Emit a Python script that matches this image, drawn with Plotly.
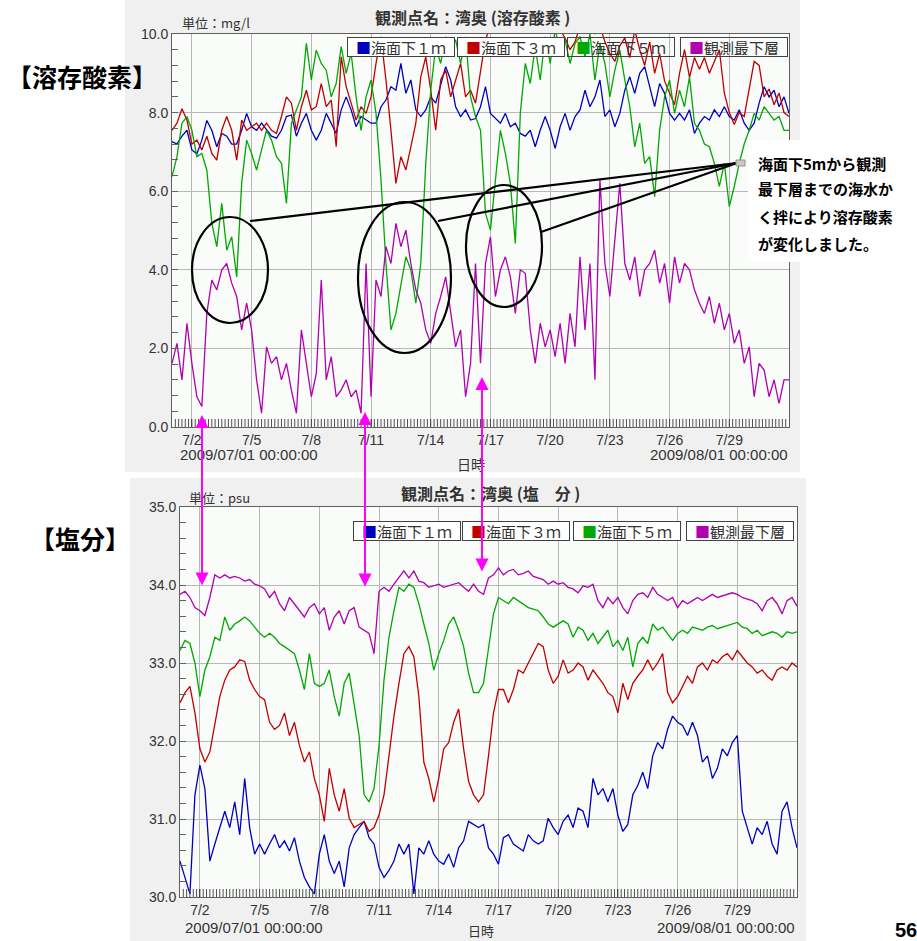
import pandas as pd
import plotly.graph_objects as go

W, H = 917, 941

# ---------------- data (6-hourly readings, 2009/07/01 00:00 .. 2009/08/01 00:00) ----------------
times = pd.date_range("2009-07-01 00:00", periods=125, freq="6h")
START = pd.Timestamp("2009-07-01 00:00")
days = ((times - START) / pd.Timedelta(days=1)).tolist()   # time as days since 7/1 00:00

series_names = ["海面下１ｍ", "海面下３ｍ", "海面下５ｍ", "観測最下層"]
series_colors = ["#0000c0", "#c00000", "#00a800", "#b000b0"]

do_1m = [7.26, 7.2, 7.4, 7.55, 7.05, 6.95, 7.3, 7.8, 7.55, 7.13, 7.47, 7.4,
         7.2, 7.2, 7.55, 7.98, 7.64, 7.55, 7.73, 7.55, 7.4, 7.35, 7.55, 7.9,
         7.94, 7.4, 7.73, 7.98, 7.55, 7.3, 7.55, 7.98, 7.73, 7.47, 8.07, 8.4,
         8.07, 7.64, 7.9, 7.81, 7.73, 7.73, 8.15, 8.32, 8.66, 8.57, 9.25, 8.49,
         8.83, 8.07, 7.9, 8.07, 8.4, 8.24, 8.74, 9.17, 8.83, 8.15, 7.9, 8.07,
         7.81, 7.85, 8.15, 8.66, 7.98, 7.85, 7.73, 7.98, 7.64, 7.73, 7.47, 7.4,
         7.55, 7.13, 7.55, 7.9, 7.55, 7.09, 7.64, 7.98, 7.55, 7.9, 8.07, 8.57,
         8.15, 8.4, 8.83, 7.9, 8.07, 7.64, 7.98, 8.57, 8.91, 8.49, 9.0, 9.17,
         8.66, 8.15, 8.74, 8.49, 7.98, 7.81, 7.98, 7.81, 8.07, 7.47, 7.73, 7.9,
         7.81, 8.07, 7.9, 8.15, 7.9, 7.81, 8.07, 7.73, 7.55, 7.73, 8.24, 8.66,
         8.4, 8.57, 8.15, 8.4, 7.98]
do_3m = [7.55, 7.73, 8.1, 7.81, 7.2, 7.3, 7.05, 7.4, 6.96, 6.79, 7.55, 7.9,
         7.55, 6.79, 7.81, 7.55, 7.64, 7.73, 7.55, 7.73, 7.55, 7.47, 7.9, 8.4,
         8.24, 7.55, 8.15, 8.57, 8.07, 8.15, 8.74, 8.15, 8.32, 7.13, 9.42, 8.66,
         8.24, 7.81, 8.15, 7.98, 8.4, 9.25, 9.93, 8.83, 7.55, 6.2, 6.88, 6.54,
         7.13, 7.73, 8.91, 9.42, 8.57, 7.55, 8.83, 9.08, 8.4, 8.83, 9.25, 8.4,
         8.57, 8.24, 9.08, 9.85, 10.2, 10.4, 10.4, 10.6, 10.3, 10.5, 10.2, 10.6,
         10.4, 10.1, 10.5, 10.3, 10.2, 10.4, 10.1, 9.9, 9.6, 9.8, 10.2, 10.1,
         10.3, 10.0, 10.2, 9.8, 9.5, 9.3, 9.7, 9.9, 9.4, 10.1, 9.6, 9.2,
         9.8, 9.0, 9.5, 8.8, 8.5, 8.2, 9.0, 9.6, 8.9, 9.4, 9.1, 9.4,
         9.0, 9.3, 9.6, 8.5, 8.0, 7.7, 8.0, 7.9, 8.6, 9.3, 9.2, 8.4,
         8.6, 8.2, 8.5, 8.0, 7.9]
do_5m = [6.37, 6.88, 7.73, 7.9, 7.55, 6.88, 6.96, 6.54, 5.19, 4.59, 5.69, 4.5,
         4.84, 3.82, 6.2, 7.3, 6.96, 6.54, 7.05, 7.55, 7.3, 6.88, 6.71, 5.69,
         7.73, 8.07, 8.4, 9.76, 8.83, 9.59, 9.25, 9.08, 8.4, 8.74, 9.68, 9.0,
         9.51, 8.4, 7.55, 8.4, 8.83, 7.98, 6.29, 4.16, 2.47, 2.89, 3.66, 4.33,
         4.0, 3.15, 4.16, 6.71, 8.57, 9.68, 9.25, 9.93, 9.59, 9.85, 9.25, 9.93,
         8.4, 7.9, 7.55, 5.44, 5.01, 6.29, 7.55, 6.96, 6.2, 4.67, 7.98, 9.25,
         8.74, 9.68, 8.83, 9.93, 9.25, 10.1, 9.59, 9.85, 9.25, 9.76, 9.93, 9.42,
         10.0, 8.83, 9.76, 9.25, 8.4, 9.08, 9.59, 8.83, 8.15, 7.13, 7.73, 6.71,
         6.88, 5.86, 7.55, 8.4, 8.83, 7.98, 8.57, 8.15, 8.91, 7.73, 7.55, 7.2,
         7.13, 6.71, 6.12, 6.71, 5.61, 6.12, 6.71, 7.2, 7.55, 7.98, 7.81, 8.15,
         7.98, 7.81, 7.9, 7.55, 7.55]
do_bottom = [1.62, 2.13, 1.2, 2.64, 1.62, 0.77, 0.52, 2.89, 3.74, 3.49, 4.0, 4.16,
             3.66, 3.32, 2.47, 3.15, 2.47, 1.2, 0.35, 2.04, 1.62, 1.79, 1.2, 1.62,
             0.94, 0.35, 2.47, 1.62, 0.77, 1.36, 3.74, 1.2, 1.79, 0.77, 0.94, 1.2,
             0.77, 0.94, 0.35, 4.16, 0.77, 3.74, 3.32, 4.59, 4.16, 5.18, 4.59, 5.01,
             4.16, 3.49, 3.15, 2.47, 2.13, 2.89, 3.32, 3.82, 2.89, 2.04, 2.47, 0.77,
             1.62, 4.16, 1.62, 4.16, 4.84, 3.32, 4.0, 4.33, 3.82, 2.89, 4.0, 3.91,
             2.47, 1.62, 2.64, 2.04, 2.47, 1.79, 2.64, 1.62, 2.89, 2.04, 4.33, 2.47,
             4.16, 1.2, 6.29, 4.16, 3.32, 4.84, 6.2, 4.16, 3.74, 4.33, 3.32, 4.0,
             4.16, 4.5, 3.66, 4.16, 3.15, 4.33, 3.66, 4.16, 4.0, 3.49, 3.15, 2.89,
             3.32, 2.64, 3.15, 2.47, 2.89, 2.13, 2.47, 1.62, 2.04, 0.77, 1.62, 1.45,
             0.77, 1.2, 0.6, 1.2, 1.2]

sal_1m = [30.46, 30.25, 30.04, 31.31, 31.69, 31.39, 30.46, 30.68, 30.89, 31.1, 30.89, 31.22,
          30.8, 31.52, 30.89, 30.55, 30.68, 30.55, 30.68, 30.8, 30.63, 30.72, 30.59, 30.76,
          30.46, 30.25, 30.13, 30.04, 30.55, 30.8, 30.46, 30.3, 30.46, 30.13, 30.63, 30.8,
          30.89, 30.97, 30.76, 30.68, 30.38, 30.25, 30.34, 30.46, 30.68, 30.55, 30.68, 30.04,
          30.63, 30.55, 30.72, 30.55, 30.46, 30.42, 30.55, 30.38, 30.63, 30.72, 30.97, 30.93,
          30.89, 30.93, 30.63, 30.55, 30.42, 30.76, 30.8, 30.68, 30.63, 30.59, 30.8, 30.72,
          30.68, 30.72, 31.01, 30.89, 30.8, 30.97, 31.05, 30.89, 31.14, 31.1, 30.89, 31.52,
          31.31, 31.39, 31.22, 31.39, 31.05, 30.84, 30.93, 31.31, 31.43, 31.6, 31.39, 31.81,
          31.98, 31.9, 32.15, 32.32, 32.24, 32.2, 32.07, 32.24, 32.07, 31.73, 31.81, 31.52,
          31.65, 31.9, 31.81, 31.98, 32.07, 31.1, 30.89, 30.68, 30.89, 30.8, 30.97, 30.68,
          30.55, 31.1, 31.22, 30.89, 30.63]
sal_3m = [32.49, 32.62, 32.7, 32.36, 31.9, 31.73, 31.86, 32.24, 32.57, 32.78, 32.91, 32.95,
          33.04, 33.02, 32.78, 32.66, 32.57, 32.53, 32.24, 32.15, 32.2, 32.36, 32.07, 32.24,
          31.94, 31.73, 31.86, 31.52, 31.31, 30.97, 31.65, 31.31, 31.1, 31.39, 31.01, 30.89,
          30.93, 30.97, 30.84, 30.89, 31.05, 31.31, 31.81, 32.32, 32.74, 33.12, 33.21, 33.08,
          32.57, 31.73, 31.52, 31.22, 31.52, 31.9, 31.98, 32.24, 32.41, 31.9, 31.48, 31.31,
          31.22, 31.31, 31.81, 32.36, 32.66, 32.66, 32.49, 32.66, 32.91, 32.87, 33.0, 33.12,
          33.25, 33.21, 32.91, 32.74, 32.83, 33.04, 32.87, 32.91, 33.0, 32.95, 32.78, 32.91,
          32.83, 32.74, 32.62, 32.57, 32.36, 32.74, 32.53, 32.74, 32.83, 32.91, 33.04, 32.91,
          33.0, 33.12, 32.62, 32.49, 32.57, 32.7, 32.83, 32.74, 32.95, 33.0, 32.91, 33.04,
          33.0, 33.08, 33.12, 33.04, 33.16, 33.08, 33.0, 32.95, 32.87, 32.91, 32.83, 32.78,
          32.91, 32.95, 32.91, 33.0, 32.95]
sal_5m = [33.16, 33.29, 33.25, 33.0, 32.57, 32.91, 33.08, 33.33, 33.29, 33.59, 33.42, 33.5,
          33.54, 33.59, 33.54, 33.46, 33.38, 33.33, 33.38, 33.33, 33.25, 33.21, 33.16, 33.12,
          32.91, 32.66, 33.12, 32.74, 32.7, 32.74, 32.91, 32.57, 32.32, 32.74, 32.87, 32.49,
          32.07, 31.31, 31.22, 31.39, 31.94, 32.78, 33.33, 33.67, 33.97, 33.92, 34.01, 33.97,
          33.76, 33.5, 33.25, 32.91, 33.12, 33.29, 33.5, 33.59, 33.42, 33.21, 32.87, 32.62,
          32.62, 32.74, 33.21, 33.63, 33.84, 33.8, 33.76, 33.84, 33.8, 33.76, 33.71, 33.69,
          33.67, 33.59, 33.5, 33.46, 33.5, 33.54, 33.5, 33.33, 33.46, 33.42, 33.29, 33.38,
          33.25, 33.33, 33.42, 33.21, 33.29, 33.16, 33.33, 32.95, 33.25, 33.33, 33.25, 33.5,
          33.42, 33.46, 33.38, 33.29, 33.38, 33.42, 33.38, 33.46, 33.44, 33.42, 33.46, 33.48,
          33.44, 33.46, 33.48, 33.5, 33.52, 33.46, 33.44, 33.38, 33.42, 33.35, 33.38, 33.4,
          33.38, 33.33, 33.4, 33.38, 33.4]
sal_bottom = [33.88, 33.92, 33.84, 33.71, 33.67, 33.61, 33.84, 34.13, 34.09, 34.13, 34.09, 34.11,
              34.09, 34.05, 34.07, 34.01, 33.99, 33.95, 33.84, 33.92, 33.76, 33.67, 33.84, 33.76,
              33.67, 33.59, 33.71, 33.76, 33.63, 33.71, 33.42, 33.59, 33.67, 33.5, 33.67, 33.71,
              33.46, 33.42, 33.38, 33.12, 33.92, 33.97, 33.92, 34.01, 34.09, 34.18, 34.09, 34.18,
              34.05, 34.03, 33.97, 33.99, 34.01, 33.97, 33.99, 34.01, 34.03, 33.97, 33.92, 34.01,
              33.92, 33.88, 34.09, 34.13, 34.22, 34.13, 34.18, 34.2, 34.13, 34.15, 34.18, 34.11,
              34.09, 34.07, 34.01, 34.05, 34.01, 34.03, 33.97, 33.95, 33.9, 33.99, 33.97, 34.01,
              33.8, 33.71, 33.84, 33.76, 33.84, 33.71, 33.63, 33.8, 33.88, 33.9, 33.84, 33.97,
              33.88, 33.84, 33.8, 33.84, 33.71, 33.8, 33.76, 33.8, 33.84, 33.8, 33.84, 33.88,
              33.84, 33.86, 33.88, 33.9, 33.88, 33.84, 33.82, 33.8, 33.76, 33.67, 33.8, 33.84,
              33.76, 33.63, 33.8, 33.84, 33.73]

tick_dates = ["2009-07-02", "2009-07-05", "2009-07-08", "2009-07-11", "2009-07-14",
              "2009-07-17", "2009-07-20", "2009-07-23", "2009-07-26", "2009-07-29"]
tick_labels = ["7/2", "7/5", "7/8", "7/11", "7/14", "7/17", "7/20", "7/23", "7/26", "7/29"]

# ---------------- helpers ----------------
def px(x):
    return x / W

def py(y):
    return 1 - y / H

tick_days = [int((pd.Timestamp(d) - START) / pd.Timedelta(days=1)) for d in tick_dates]
alias = {str(d): lab for d, lab in zip(tick_days, tick_labels)}
alias["31"] = " "          # no label at the right edge (8/1)

LAT = "Liberation Sans, Arial, sans-serif"
JP = "Noto Sans CJK JP, sans-serif"

fig = go.Figure()
for vals, name, col in zip([do_1m, do_3m, do_5m, do_bottom], series_names, series_colors):
    fig.add_trace(go.Scatter(x=days, y=vals, mode="lines", name=name, showlegend=False,
                             line=dict(color=col, width=1.3), xaxis="x", yaxis="y"))
for vals, name, col in zip([sal_1m, sal_3m, sal_5m, sal_bottom], series_names, series_colors):
    fig.add_trace(go.Scatter(x=days, y=vals, mode="lines", name=name, showlegend=False,
                             line=dict(color=col, width=1.3), xaxis="x2", yaxis="y2"))

def xax(domain, anchor):
    return dict(domain=domain, anchor=anchor, type="linear", range=[0, 31],
                tickmode="linear", tick0=tick_days[0], dtick=3, labelalias=alias,
                ticks="inside", ticklen=8, tickcolor="#404040", tickwidth=1,
                showgrid=True, gridcolor="#b8b8b8", gridwidth=1,
                showline=True, mirror=True, linecolor="#606060", linewidth=1,
                tickfont=dict(family=LAT, size=14, color="#333333"),
                automargin=False, zeroline=False, fixedrange=True)

def yax(domain, anchor, rng, dtick, minor_dtick):
    return dict(domain=domain, anchor=anchor, range=rng, dtick=dtick, tick0=rng[0],
                tickformat=".1f", ticks="inside", ticklen=6, tickcolor="#606060",
                minor=dict(dtick=minor_dtick, tick0=rng[0], ticks="inside", ticklen=6,
                           tickcolor="#606060", showgrid=False),
                showgrid=True, gridcolor="#b8b8b8", gridwidth=1,
                showline=True, mirror=True, linecolor="#606060", linewidth=1,
                tickfont=dict(family=LAT, size=14, color="#333333"),
                automargin=False, zeroline=False, fixedrange=True)

# fine 4-hour tick strip along each time axis, in the axis' own day units
strip_path = " ".join("M%.4f,0V1" % (k / 6) for k in range(1, 31 * 6))

def strip(xref, yref, frac):
    return dict(type="path", xref=xref, yref=yref + " domain", path=strip_path.replace("V1", "V%.4f" % frac),
                line=dict(color="#505050", width=1), layer="above")

shapes = [
    # panel backgrounds
    dict(type="rect", xref="paper", yref="paper", x0=px(125), x1=px(800), y0=py(472), y1=py(0),
         fillcolor="#f0f0f0", line=dict(width=0), layer="below"),
    dict(type="rect", xref="paper", yref="paper", x0=px(130), x1=px(806), y0=py(941), y1=py(478),
         fillcolor="#f0f0f0", line=dict(width=0), layer="below"),
    dict(type="rect", xref="paper", yref="paper", x0=px(172), x1=px(789), y0=py(427), y1=py(34),
         fillcolor="#fafcfa", line=dict(width=0), layer="below"),
    dict(type="rect", xref="paper", yref="paper", x0=px(180), x1=px(797), y0=py(897), y1=py(507),
         fillcolor="#fafcfa", line=dict(width=0), layer="below"),
    strip("x", "y", 8 / 393),
    strip("x2", "y2", 8 / 390),
    # callout box
    dict(type="rect", xref="paper", yref="paper", x0=px(748), x1=px(917), y0=py(262), y1=py(140),
         fillcolor="white", line=dict(width=0), layer="above"),
    # ellipses
    dict(type="circle", xref="paper", yref="paper", x0=px(192), x1=px(268), y0=py(323), y1=py(217),
         line=dict(color="black", width=2.2), layer="above"),
    dict(type="circle", xref="paper", yref="paper", x0=px(358), x1=px(451), y0=py(353), y1=py(202),
         line=dict(color="black", width=2.2), layer="above"),
    dict(type="circle", xref="paper", yref="paper", x0=px(466), x1=px(542), y0=py(307), y1=py(185),
         line=dict(color="black", width=2.2), layer="above"),
    # leader lines
    dict(type="line", xref="paper", yref="paper", x0=px(250), y0=py(221), x1=px(737), y1=py(163),
         line=dict(color="black", width=2.2), layer="above"),
    dict(type="line", xref="paper", yref="paper", x0=px(438), y0=py(221), x1=px(737), y1=py(163),
         line=dict(color="black", width=2.2), layer="above"),
    dict(type="line", xref="paper", yref="paper", x0=px(541), y0=py(232), x1=px(737), y1=py(163),
         line=dict(color="black", width=2.2), layer="above"),
    dict(type="rect", xref="paper", yref="paper", x0=px(736), x1=px(745), y0=py(166), y1=py(160),
         fillcolor="#c8c8c8", line=dict(color="#909090", width=1), layer="above"),
]

ann = []
def text(x, y, t, size=14, bold=False, xanchor="center", font=JP, color="#333333", **kw):
    s = "<b>%s</b>" % t if bold else t
    ann.append(dict(xref="paper", yref="paper", x=px(x), y=py(y), text=s, showarrow=False,
                    xanchor=xanchor, yanchor="middle",
                    font=dict(family=font, size=size, color=color), **kw))

# titles and units
text(472, 17, "観測点名：湾奥 (溶存酸素 )", size=16, bold=True)
text(180, 22, "単位：mg/l", size=13, xanchor="left")
text(490, 493, "観測点名：湾奥 (塩　分 )", size=16, bold=True)
text(187, 498, "単位：psu", size=13, xanchor="left")
# x-axis footers
text(178, 455, "2009/07/01 00:00:00", size=15, xanchor="left", font=LAT)
text(790, 455, "2009/08/01 00:00:00", size=15, xanchor="right", font=LAT)
text(471, 464, "日時", size=14)
text(183, 927, "2009/07/01 00:00:00", size=15, xanchor="left", font=LAT)
text(797, 927, "2009/08/01 00:00:00", size=15, xanchor="right", font=LAT)
text(481, 930, "日時", size=13)
# panel labels
text(82, 76, "【溶存酸素】", size=25, bold=True, color="black")
text(80, 538, "【塩分】", size=25, bold=True, color="black")
text(893, 930, "56", size=20, bold=True, xanchor="left", font=LAT, color="black")
# callout text
for yy, line in zip([163, 189, 216, 243],
                    ["海面下5mから観測", "最下層までの海水か", "く拌により溶存酸素", "が変化しました。"]):
    text(756, yy, line, size=15, bold=True, xanchor="left", color="black")

# legends (boxed items)
def legend(centers, yc, transparent_from=4):
    for i, (cx, name, col) in enumerate(zip(centers, series_names, series_colors)):
        ann.append(dict(xref="paper", yref="paper", x=px(cx), y=py(yc), showarrow=False,
                        text='<span style="color:%s">■</span>%s' % (col, name),
                        xanchor="center", yanchor="middle", width=104, height=16,
                        bordercolor="#404040", borderwidth=1, borderpad=1,
                        bgcolor="rgba(255,255,255,0)" if i >= transparent_from else "white",
                        font=dict(family=JP, size=15, color="#333333")))

legend([401, 511, 621, 734], 47, transparent_from=2)
legend([407, 516, 627, 740], 531)

# magenta double-headed arrows linking the two panels
for xa, ytop, ybot in [(202, 415, 587), (365, 412, 588), (482, 377, 573)]:
    ann.append(dict(xref="paper", yref="paper", x=px(xa), y=py(ytop), ax=0, ay=ybot - ytop,
                    axref="pixel", ayref="pixel", text="", showarrow=True,
                    arrowhead=2, startarrowhead=2, arrowside="end+start", arrowsize=1.3,
                    startarrowsize=1.3, arrowwidth=2, arrowcolor="#ff00ff",
                    standoff=0, startstandoff=0))

fig.update_layout(
    width=W, height=H, margin=dict(l=0, r=0, t=0, b=0),
    paper_bgcolor="white", plot_bgcolor="rgba(0,0,0,0)",
    template="none", showlegend=False, hovermode=False,
    xaxis=xax([px(172), px(789)], "y"),
    yaxis=yax([py(427), py(34)], "x", [0, 10], 2, 0.4),
    xaxis2=xax([px(180), px(797)], "y2"),
    yaxis2=yax([py(897), py(507)], "x2", [30, 35], 1, 0.2),
    shapes=shapes, annotations=ann,
)

fig.write_html("out.html", config={"displayModeBar": False, "staticPlot": True},
               post_script="document.body.style.margin='0';")
